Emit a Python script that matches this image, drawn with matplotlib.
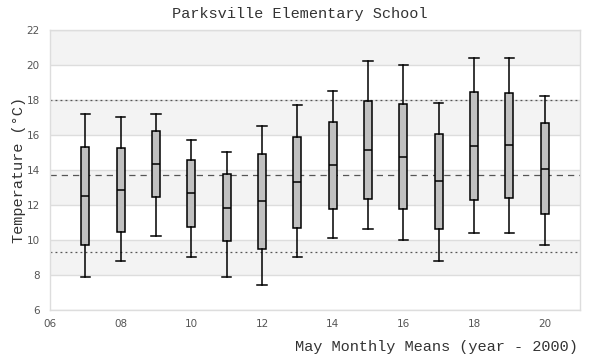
import matplotlib
matplotlib.use("Agg")
import matplotlib.pyplot as plt

years = [7, 8, 9, 10, 11, 12, 13, 14, 15, 16, 17, 18, 19, 20]
whisker_high = [17.18, 17.05, 17.18, 15.70, 15.01, 16.50, 17.70, 18.50, 20.21, 19.98, 17.81, 20.38, 20.38, 18.21]
q3 = [15.31, 15.24, 16.21, 14.55, 13.77, 14.90, 15.89, 16.72, 17.94, 17.75, 16.04, 18.44, 18.38, 16.67]
median = [12.51, 12.84, 14.32, 12.67, 11.81, 12.21, 13.30, 14.29, 15.12, 14.72, 13.35, 15.35, 15.41, 14.04]
q1 = [9.70, 10.44, 12.44, 10.72, 9.92, 9.47, 10.67, 11.75, 12.32, 11.75, 10.61, 12.27, 12.38, 11.47]
whisker_low = [7.87, 8.78, 10.21, 9.01, 7.87, 7.41, 9.01, 10.10, 10.61, 9.98, 8.78, 10.38, 10.38, 9.70]

mean_line = 13.7
upper_line = 18.0
lower_line = 9.3

x_ticks = [6, 8, 10, 12, 14, 16, 18, 20]
x_labels = ["06", "08", "10", "12", "14", "16", "18", "20"]
y_ticks = [6, 8, 10, 12, 14, 16, 18, 20, 22]

title = "Parksville Elementary School"
xlabel = "May Monthly Means (year - 2000)"
ylabel = "Temperature (°C)"

mono = "Liberation Mono"

fig = plt.figure(figsize=(6, 3.6), dpi=100)
ax = fig.add_axes([50/600, 1-310/360, 530/600, 280/360])

ax.set_xlim(6, 21)
ax.set_ylim(6, 22)

# alternating bands
for lo in range(6, 22, 2):
    if ((lo - 6) // 2) % 2 == 1:
        ax.axhspan(lo, lo + 2, color="#f3f3f3", zorder=0, lw=0)
for t in y_ticks:
    ax.axhline(t, color="#dddddd", lw=1, zorder=0.5)

ax.axhline(upper_line, color="#555555", lw=0.9, ls=(0, (1.5, 2.5)), zorder=1)
ax.axhline(lower_line, color="#555555", lw=0.9, ls=(0, (1.5, 2.5)), zorder=1)
ax.axhline(mean_line, color="#555555", lw=0.9, ls=(0, (5, 4)), zorder=1)

stats = []
for i in range(len(years)):
    stats.append(dict(med=median[i], q1=q1[i], q3=q3[i],
                      whislo=whisker_low[i], whishi=whisker_high[i], fliers=[]))

ax.bxp(stats, positions=years, widths=0.23, patch_artist=True, manage_ticks=False,
       boxprops=dict(facecolor="#c0c0c0", edgecolor="black", lw=1.1),
       medianprops=dict(color="black", lw=1.1),
       whiskerprops=dict(color="black", lw=1.1),
       capprops=dict(color="black", lw=1.1), capwidths=0.26,
       showfliers=False, zorder=3)

ax.set_xticks(x_ticks)
ax.set_xticklabels(x_labels)
ax.set_yticks(y_ticks)
ax.tick_params(length=0, labelsize=7.5, colors="#555555")
ax.tick_params(axis="y", pad=7.5)
ax.tick_params(axis="x", pad=6.5)
for s in ax.spines.values():
    s.set_color("#dddddd")
    s.set_linewidth(1)

fig.text(0.5, 1-14/360, title, ha="center", va="center", family=mono, fontsize=11, color="#333333")
fig.text(578/600, 1-347/360, xlabel, ha="right", va="center", family=mono, fontsize=11, color="#333333")
fig.text(19/600, 1-170/360, ylabel, ha="center", va="center", rotation=90, family=mono, fontsize=11, color="#333333")

fig.savefig("out.png", dpi=100)
